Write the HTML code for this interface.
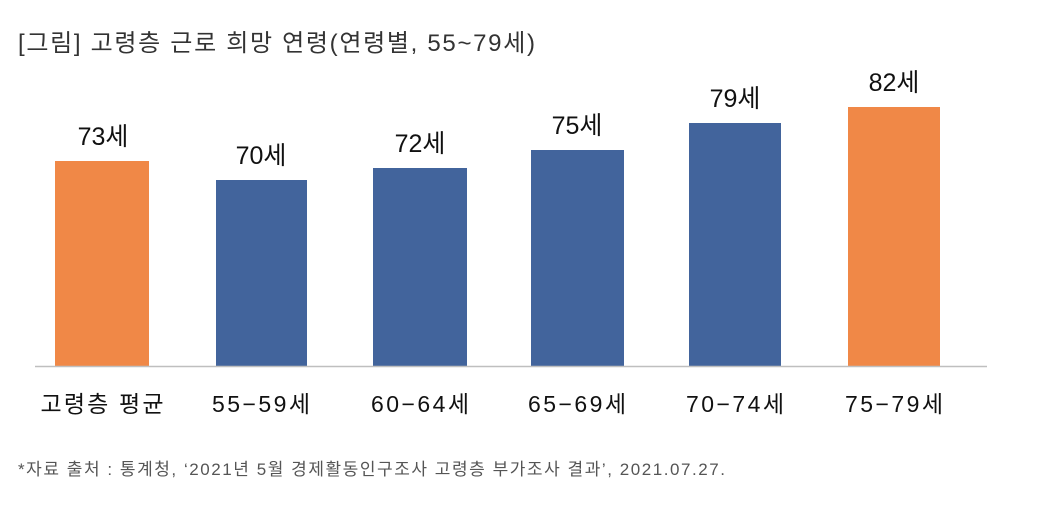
<!DOCTYPE html>
<html><head><meta charset="utf-8"><style>
body{margin:0;background:#fff;width:1050px;height:512px;overflow:hidden;}
svg text{font-family:"Liberation Sans","Noto Sans CJK KR",sans-serif;}
</style></head><body>
<svg width="1050" height="512" xmlns="http://www.w3.org/2000/svg">
<text x="18" y="51" font-size="24" fill="#333" textLength="517" lengthAdjust="spacing">[그림] 고령층 근로 희망 연령(연령별, 55~79세)</text>
<rect x="55" y="161" width="94" height="205" fill="#F08847"/>
<rect x="216" y="180" width="91" height="186" fill="#42649C"/>
<rect x="373" y="168" width="94" height="198" fill="#42649C"/>
<rect x="531" y="150" width="93" height="216" fill="#42649C"/>
<rect x="689" y="123" width="92" height="243" fill="#42649C"/>
<rect x="848" y="107" width="92" height="259" fill="#F08847"/>
<line x1="35" y1="366.5" x2="987" y2="366.5" stroke="#bfbfbf" stroke-width="1.5"/>
<g font-size="25" fill="#111" text-anchor="middle">
<text x="103" y="145">73세</text>
<text x="261" y="164">70세</text>
<text x="420" y="152">72세</text>
<text x="577" y="134">75세</text>
<text x="735" y="107">79세</text>
<text x="894" y="91">82세</text>
</g>
<g font-size="23" fill="#111" text-anchor="middle">
<text x="102" y="412" textLength="123" lengthAdjust="spacing">고령층 평균</text>
<text x="261" y="412" textLength="98" lengthAdjust="spacing">55−59세</text>
<text x="420" y="412" textLength="98" lengthAdjust="spacing">60−64세</text>
<text x="577" y="412" textLength="98" lengthAdjust="spacing">65−69세</text>
<text x="735" y="412" textLength="98" lengthAdjust="spacing">70−74세</text>
<text x="894" y="412" textLength="98" lengthAdjust="spacing">75−79세</text>
</g>
<text x="18" y="475" font-size="17" fill="#555" textLength="707" lengthAdjust="spacing">*자료 출처 : 통계청, ‘2021년 5월 경제활동인구조사 고령층 부가조사 결과’, 2021.07.27.</text>
</svg>
</body></html>
